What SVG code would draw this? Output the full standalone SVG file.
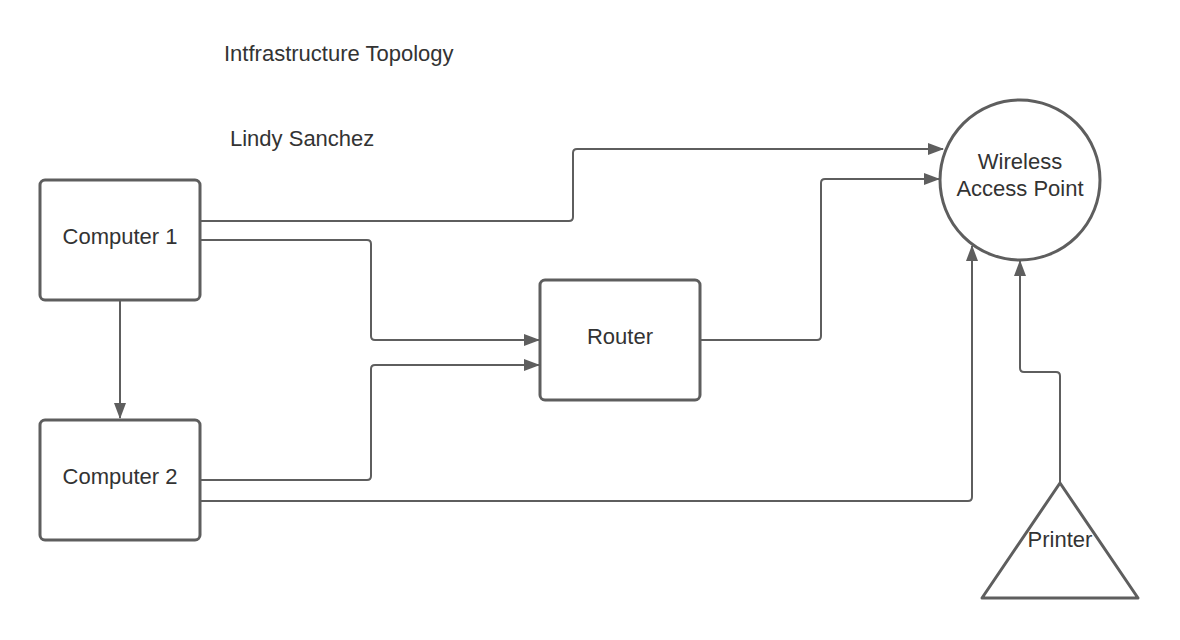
<svg xmlns="http://www.w3.org/2000/svg" width="1180" height="640" viewBox="0 0 1180 640">
<style>
.shape{fill:#ffffff;stroke:#5e5e5e;stroke-width:3;stroke-linejoin:round}
.conn{fill:none;stroke:#5e5e5e;stroke-width:2;marker-end:url(#arr)}
text{font-family:"Liberation Sans",Arial,sans-serif;font-size:22px;fill:#333333}
.c{text-anchor:middle}
</style>
<defs>
<marker id="arr" markerUnits="userSpaceOnUse" markerWidth="16" markerHeight="12" refX="15" refY="6" orient="auto">
<path d="M0,0 L16,6 L0,12 Z" fill="#5e5e5e"/>
</marker>
</defs>
<rect width="1180" height="640" fill="#ffffff"/>
<g id="labels">
<text x="224" y="61">Intfrastructure Topology</text>
<text x="230" y="146">Lindy Sanchez</text>
</g>
<g id="connectors">
<path class="conn" d="M200,221 H569 Q573,221 573,217 V153 Q573,149 577,149 H943"/>
<path class="conn" d="M200,240 H367 Q371,240 371,244 V336 Q371,340 375,340 H539"/>
<path class="conn" d="M200,480 H367 Q371,480 371,476 V369 Q371,365 375,365 H539"/>
<path class="conn" d="M200,501 H968 Q972,501 972,497 V246"/>
<path class="conn" d="M700,340 H817 Q821,340 821,336 V183 Q821,179 825,179 H939"/>
<path class="conn" d="M1060,483 V376 Q1060,372 1056,372 H1024 Q1020,372 1020,368 V261"/>
<path class="conn" d="M120,300 V418"/>
</g>
<g id="computer1">
<rect class="shape" x="40" y="180" width="160" height="120" rx="5"/>
<text class="c" x="120" y="244">Computer 1</text>
</g>
<g id="computer2">
<rect class="shape" x="40" y="420" width="160" height="120" rx="5"/>
<text class="c" x="120" y="484">Computer 2</text>
</g>
<g id="router">
<rect class="shape" x="540" y="280" width="160" height="120" rx="5"/>
<text class="c" x="620" y="344">Router</text>
</g>
<g id="wap">
<circle class="shape" cx="1020" cy="180" r="80"/>
<text class="c" x="1020" y="169">Wireless</text>
<text class="c" x="1020" y="196">Access Point</text>
</g>
<g id="printer">
<path class="shape" d="M1060,483 L1138,598 L982,598 Z"/>
<text class="c" x="1060" y="547">Printer</text>
</g>
</svg>
